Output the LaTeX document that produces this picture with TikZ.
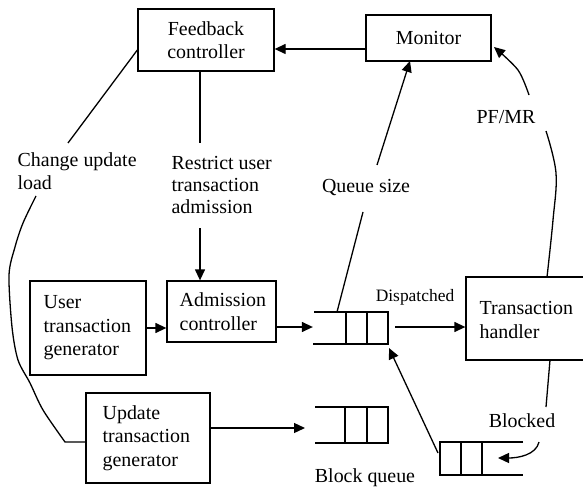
\documentclass[tikz,border=0pt]{standalone}
\usepackage{fontspec}
\setmainfont{Liberation Serif}
\usetikzlibrary{arrows.meta,calc}
\begin{document}
\begin{tikzpicture}[x=1bp,y=-1bp,
  line width=1.3bp,
  box/.style={draw,inner sep=0pt,font=\fontsize{20}{23.5}\selectfont},
  lbl/.style={inner sep=0pt,font=\fontsize{20}{22.5}\selectfont},
  small/.style={inner sep=0pt,font=\fontsize{17.5}{20}\selectfont},
  arr/.style={-{Triangle[length=11bp,width=10bp]}},
  qspace/.style={inner sep=0pt,minimum width=75bp,minimum height=33bp}
]
\useasboundingbox (0,0) rectangle (583,488);
\begin{scope}
\clip (0,0) rectangle (583,488);
% boxes
\node[box,minimum width=136bp,minimum height=62bp,align=center] (fb) at (206,40) {Feedback\\controller};
\node[box,minimum width=125bp,minimum height=46bp] (mon) at (428.5,38) {Monitor};
\node[box,minimum width=116bp,minimum height=94bp] (ug) at (88,328) {};
\node[lbl,anchor=west,align=left,font=\fontsize{20}{23.5}\selectfont] at (43,328) {User\\transaction\\generator};
\node[box,minimum width=109bp,minimum height=61bp] (adm) at (221.5,311.5) {};
\node[lbl,anchor=west,align=left,font=\fontsize{20}{23.5}\selectfont] at (179,311.5) {Admission\\controller};
\node[box,minimum width=124bp,minimum height=90bp] (upd) at (148,438) {};
\node[lbl,anchor=west,align=left,font=\fontsize{20}{23.5}\selectfont] at (102,438) {Update\\transaction\\generator};
\node[box,minimum width=118bp,minimum height=83bp] (th) at (525,318.5) {};
\node[lbl,anchor=west,align=left,font=\fontsize{20}{23.5}\selectfont] at (479,320) {Transaction\\handler};

% queues
\node[qspace] (q1) at (351,328) {};
\node[qspace] (q2) at (351.5,425) {};
\node[qspace] (q3) at (481.5,458.5) {};
\draw (314,312) -- (388,312) -- (388,344) -- (313,344);
\draw (346,312) -- (346,344) (367,312) -- (367,344);
\draw (315,407) -- (388,407) -- (388,443) -- (315,443);
\draw (345,407) -- (345,443) (367,407) -- (367,443);
\draw (523,442) -- (440,442) -- (440,475) -- (523,475);
\draw (461,442) -- (461,475) (482,442) -- (482,475);

% labels
\node[lbl,anchor=west,align=left] (cul) at (17,171) {Change update\\load};
\node[lbl,anchor=west,align=left] (rua) at (171,185) {Restrict user\\transaction\\admission};
\node[lbl] (qs) at (366,188) {Queue size};
\node[lbl] (pf) at (506,117) {PF/MR};
\node[small] (dis) at (415,297) {Dispatched};
\node[lbl] (blk) at (522,421) {Blocked};
\node[lbl] (bq) at (365,478) {Block queue};

% connectors
\draw[arr] (mon.west |- 0,49) -- (fb.east |- 0,49);
\draw (fb.south -| 200,0) -- (200,143);
\draw[arr] (200,228) -- (adm.north -| 200,0);
\draw (fb.west |- 0,50) -- (68,143);
\draw plot[smooth,tension=0.5] coordinates {(36,196) (23,223) (15,247) (9,275) (12,327) (18,360) (30,383) (43,410) (65,442)} -- (upd.west |- 0,442);
\draw[arr] (ug.east |- 0,328) -- (adm.west |- 0,328);
\draw[arr] (adm.east |- 0,327) -- (q1.west |- 0,327);
\draw (337,312) -- (363,212);
\draw[arr] (377,165) -- (410,61);
\draw[arr] (395,327) -- (th.west |- 0,327);
\draw plot[smooth,tension=0.6] coordinates {(547,277) (553,220) (556,173) (546,131)};
\draw[arr] plot[smooth,tension=0.5] coordinates {(529,95) (518,70) (494,47)};
\draw (550,360) -- (546,407);
\draw[arr] (539,442) .. controls (536,455) and (518,458) .. (498,458);
\draw[arr] (438,453) -- (389,348);
\draw[arr] (upd.east |- 0,428) -- (305,428);
\end{scope}
\end{tikzpicture}
\end{document}
